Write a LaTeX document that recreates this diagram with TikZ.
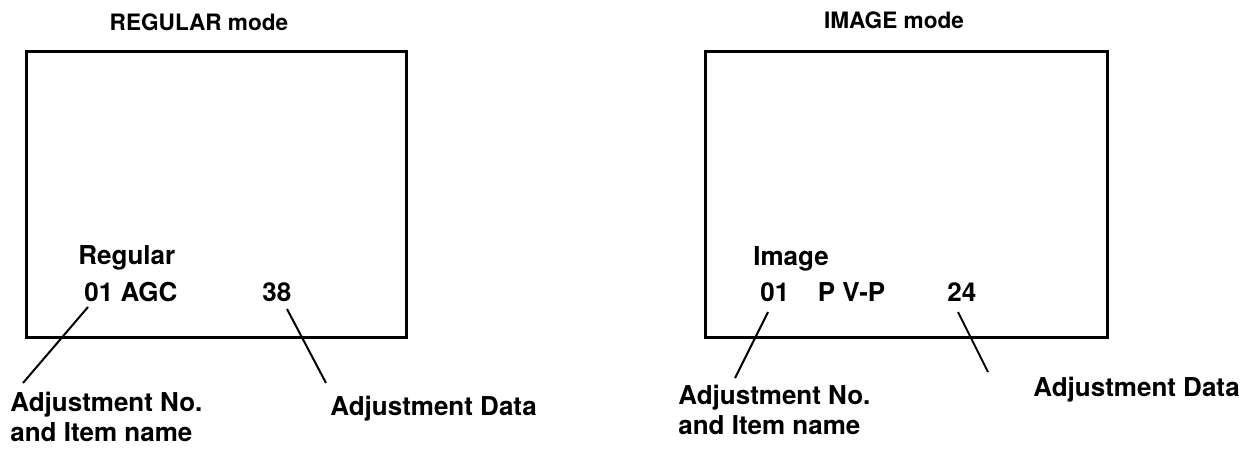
\documentclass[tikz,border=0pt]{standalone}
\usepackage{fontspec}
\setmainfont{TeX Gyre Heros}
\usepackage{tikz}
\usetikzlibrary{positioning, calc}

\tikzset{
  screen/.style={draw, line width=1.5pt},
  modetitle/.style={font=\fontsize{11.3}{13}\selectfont\bfseries, inner sep=0pt},
  osdtext/.style={font=\fontsize{13}{15}\selectfont\bfseries, anchor=west, inner sep=0pt},
  calltext/.style={font=\fontsize{13}{15}\selectfont\bfseries, anchor=north west, align=left, inner sep=0pt},
  leader/.style={line width=1pt}
}

\begin{document}
\begin{tikzpicture}[x=0.5pt, y=-0.5pt]
  \useasboundingbox (0,0) rectangle (1248,451);

  % REGULAR mode
  \node[modetitle] (regtitle) at (199,22) {REGULAR mode};
  \draw[screen] (26,51) rectangle (406,337);
  \node[osdtext] (regname) at (78,258) {Regular};
  \node[osdtext] (regitem) at (84,292) {01 AGC};
  \node[osdtext] (regdata) at (262,292) {38};

  \node[calltext] (regcallno) at (10,392) {Adjustment No.\\and Item name};
  \node[calltext] (regcalldata) at (330,396) {Adjustment Data};

  \coordinate (regitemtip) at (88,307);
  \coordinate (regdatatip) at (287,309);
  \coordinate (regnoend) at (23,383);
  \coordinate (regdataend) at (326,383);
  \draw[leader] (regitemtip) -- (regnoend);
  \draw[leader] (regdatatip) -- (regdataend);

  % IMAGE mode
  \node[modetitle] (imgtitle) at (894,20) {IMAGE mode};
  \draw[screen] (705,51) rectangle (1107,337);
  \node[osdtext] (imgname) at (753,259) {Image};
  \node[osdtext] (imgitem) at (760,292) {01\hspace{1.1em}P V-P};
  \node[osdtext] (imgdata) at (947,292) {24};

  \node[calltext] (imgcallno) at (678,385) {Adjustment No.\\and Item name};
  \node[calltext] (imgcalldata) at (1033,377) {Adjustment Data};

  \coordinate (imgitemtip) at (768,312);
  \coordinate (imgdatatip) at (958,312);
  \coordinate (imgnoend) at (735,378);
  \coordinate (imgdataend) at (988,372);
  \draw[leader] (imgitemtip) -- (imgnoend);
  \draw[leader] (imgdatatip) -- (imgdataend);
\end{tikzpicture}
\end{document}
